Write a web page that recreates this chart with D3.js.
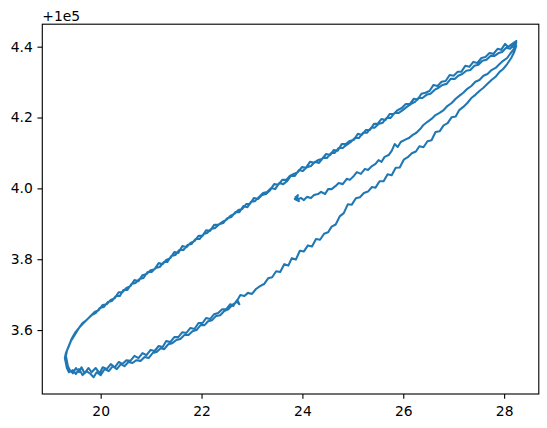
<!DOCTYPE html>
<html>
<head>
<meta charset="utf-8">
<script src="https://cdn.jsdelivr.net/npm/d3@7"></script>
<style>
  html, body { margin: 0; padding: 0; background: #ffffff; }
  svg { display: block; }
  text { font-family: "DejaVu Sans", sans-serif; }
</style>
</head>
<body>
<svg id="chart" width="547" height="428"></svg>
<script>
// ---- data (y values are shown relative to the +1e5 offset) ----
const yOffset = 1e5;
const offsetLabel = "+1e5";

const xValues = [
  // middle branch (start) -> upper-right tip
  23.87,23.93,23.85,23.91,23.89,23.97,24.03,24.09,24.17,24.23,
  24.31,24.37,24.45,24.51,24.58,24.66,24.72,24.80,24.88,24.94,
  25.02,25.08,25.16,25.24,25.30,25.38,25.45,25.51,25.57,25.63,
  25.71,25.77,25.83,25.89,25.95,26.03,26.11,26.19,26.26,26.34,
  26.40,26.48,26.56,26.64,26.72,26.80,26.88,26.96,27.04,27.11,
  27.19,27.27,27.35,27.43,27.51,27.59,27.67,27.75,27.83,27.91,
  27.98,28.06,28.12,28.18,28.22,28.20,28.24,28.18,28.24,
  // upper branch, pass 1
  28.16,28.08,28.02,27.94,27.87,27.79,27.71,27.63,27.55,27.47,
  27.39,27.31,27.23,27.15,27.08,27.00,26.92,26.84,26.76,26.68,
  26.60,26.52,26.44,26.36,26.28,26.21,26.13,26.05,25.97,25.89,
  25.81,25.73,25.65,25.57,25.49,25.42,25.34,25.26,25.18,25.10,
  25.02,24.94,24.86,24.78,24.70,24.62,24.55,24.47,24.39,24.31,
  24.23,24.15,24.07,23.99,23.91,23.83,23.75,23.68,23.60,23.52,
  23.44,23.36,23.28,23.20,23.12,23.04,22.96,22.89,22.81,22.73,
  22.65,22.57,22.49,22.41,22.33,22.25,22.17,22.09,22.02,21.94,
  21.86,21.78,21.70,21.62,21.54,21.46,21.38,21.30,21.23,21.15,
  21.07,20.99,20.91,20.83,20.75,20.67,20.59,20.51,20.43,20.36,
  20.28,20.20,20.12,20.04,19.96,19.88,19.80,19.72,19.64,19.57,
  19.49,19.43,19.39,19.35,19.31,19.29,19.31,19.33,
  // lower branch, pass 1
  19.37,19.45,19.51,19.57,19.64,19.72,19.80,19.86,19.92,20.00,
  20.08,20.16,20.24,20.32,20.40,20.47,20.55,20.63,20.71,20.79,
  20.87,20.95,21.03,21.11,21.19,21.26,21.34,21.42,21.50,21.58,
  21.66,21.74,21.82,21.90,21.98,22.06,22.13,22.21,22.29,22.37,
  22.45,22.53,22.61,22.69,22.77,22.85,22.92,23.00,23.08,23.16,
  23.24,23.32,23.40,23.48,23.56,23.64,23.72,23.79,23.87,23.95,
  24.03,24.11,24.19,24.27,24.35,24.43,24.51,24.58,24.66,24.74,
  24.82,24.90,24.98,25.06,25.14,25.22,25.30,25.38,25.45,25.53,
  25.61,25.69,25.77,25.85,25.93,26.01,26.09,26.17,26.25,26.32,
  26.40,26.48,26.56,26.64,26.72,26.80,26.88,26.96,27.04,27.11,
  27.19,27.27,27.35,27.43,27.51,27.59,27.67,27.75,27.83,27.91,
  27.98,28.06,28.14,28.20,28.24,28.20,28.24,
  // upper branch, pass 2
  28.18,28.12,28.04,27.96,27.89,27.81,27.73,27.65,27.57,27.49,
  27.41,27.33,27.25,27.17,27.09,27.02,26.94,26.86,26.78,26.70,
  26.62,26.54,26.46,26.38,26.30,26.23,26.15,26.07,25.99,25.91,
  25.83,25.75,25.67,25.59,25.51,25.43,25.36,25.28,25.20,25.12,
  25.04,24.96,24.88,24.80,24.72,24.64,24.57,24.49,24.41,24.33,
  24.25,24.17,24.09,24.01,23.93,23.85,23.77,23.70,23.62,23.54,
  23.46,23.38,23.30,23.22,23.14,23.06,22.98,22.91,22.83,22.75,
  22.67,22.59,22.51,22.43,22.35,22.27,22.19,22.11,22.04,21.96,
  21.88,21.80,21.72,21.64,21.56,21.48,21.40,21.32,21.25,21.17,
  21.09,21.01,20.93,20.85,20.77,20.69,20.61,20.53,20.45,20.38,
  20.30,20.22,20.14,20.06,19.98,19.90,19.82,19.74,19.66,19.58,
  19.53,19.47,19.41,19.37,19.33,19.31,19.33,19.35,19.39,
  // lower branch, pass 2 (end)
  19.45,19.51,19.57,19.62,19.68,19.76,19.82,19.90,19.98,20.04,
  20.12,20.20,20.28,20.36,20.43,20.51,20.59,20.67,20.75,20.83,
  20.91,20.99,21.07,21.15,21.23,21.30,21.38,21.46,21.54,21.62,
  21.70,21.78,21.86,21.94,22.02,22.09,22.17,22.25,22.33,22.41,
  22.49,22.57,22.63,22.69,22.75,22.71
];

const yValues = [
  // middle branch (start) -> upper-right tip
  3.976,3.964,3.970,3.981,3.967,3.973,3.967,3.976,3.973,3.981,
  3.984,3.990,3.984,3.998,3.998,4.007,4.015,4.012,4.027,4.024,
  4.035,4.046,4.041,4.055,4.052,4.063,4.069,4.080,4.075,4.089,
  4.094,4.106,4.125,4.117,4.131,4.137,4.142,4.151,4.157,4.168,
  4.179,4.188,4.196,4.207,4.213,4.221,4.233,4.241,4.253,4.261,
  4.270,4.281,4.289,4.301,4.306,4.318,4.323,4.334,4.340,4.351,
  4.360,4.368,4.380,4.391,4.402,4.388,4.411,4.399,4.416,
  // upper branch, pass 1
  4.408,4.399,4.408,4.391,4.394,4.380,4.382,4.371,4.368,4.354,
  4.357,4.343,4.346,4.329,4.329,4.318,4.320,4.303,4.301,4.289,
  4.292,4.275,4.270,4.267,4.250,4.253,4.238,4.238,4.227,4.221,
  4.210,4.210,4.193,4.196,4.182,4.182,4.165,4.165,4.151,4.154,
  4.137,4.134,4.125,4.125,4.106,4.108,4.094,4.097,4.083,4.080,
  4.072,4.075,4.058,4.060,4.046,4.041,4.035,4.024,4.024,4.010,
  4.012,3.995,3.984,3.981,3.970,3.973,3.956,3.956,3.942,3.939,
  3.928,3.922,3.911,3.905,3.897,3.897,3.880,3.882,3.866,3.866,
  3.851,3.846,3.834,3.837,3.818,3.820,3.803,3.798,3.786,3.789,
  3.772,3.769,3.758,3.755,3.738,3.741,3.724,3.719,3.707,3.707,
  3.690,3.685,3.673,3.671,3.656,3.651,3.640,3.628,3.620,3.606,
  3.592,3.577,3.563,3.549,3.535,3.521,3.507,3.493,
  // lower branch, pass 1
  3.481,3.487,3.476,3.490,3.473,3.484,3.476,3.467,3.481,3.473,
  3.490,3.484,3.498,3.490,3.504,3.498,3.510,3.507,3.515,3.513,
  3.524,3.521,3.535,3.538,3.549,3.546,3.560,3.563,3.572,3.575,
  3.586,3.586,3.597,3.600,3.614,3.614,3.625,3.628,3.640,3.642,
  3.654,3.659,3.671,3.679,3.699,3.696,3.705,3.702,3.716,3.724,
  3.730,3.746,3.749,3.766,3.764,3.786,3.782,3.803,3.799,3.824,
  3.822,3.839,3.836,3.857,3.855,3.872,3.876,3.892,3.898,3.921,
  3.930,3.955,3.954,3.972,3.975,3.987,3.991,4.004,4.002,4.020,
  4.020,4.040,4.037,4.058,4.059,4.081,4.088,4.099,4.104,4.119,
  4.116,4.133,4.136,4.159,4.161,4.178,4.184,4.201,4.203,4.221,
  4.230,4.241,4.255,4.264,4.275,4.284,4.295,4.306,4.315,4.329,
  4.337,4.351,4.368,4.385,4.402,4.394,4.414,
  // upper branch, pass 2
  4.405,4.394,4.397,4.385,4.382,4.374,4.374,4.363,4.360,4.349,
  4.346,4.334,4.332,4.323,4.318,4.309,4.309,4.295,4.292,4.284,
  4.278,4.267,4.264,4.255,4.255,4.244,4.238,4.230,4.221,4.213,
  4.213,4.199,4.199,4.185,4.182,4.171,4.171,4.157,4.157,4.142,
  4.142,4.131,4.123,4.114,4.114,4.100,4.100,4.086,4.086,4.072,
  4.075,4.063,4.060,4.049,4.052,4.035,4.035,4.021,4.012,4.015,
  3.998,4.001,3.990,3.987,3.976,3.964,3.962,3.947,3.950,3.933,
  3.933,3.919,3.916,3.902,3.899,3.888,3.885,3.874,3.871,3.857,
  3.857,3.843,3.840,3.826,3.826,3.812,3.809,3.792,3.792,3.778,
  3.775,3.764,3.764,3.747,3.744,3.733,3.730,3.713,3.713,3.696,
  3.696,3.682,3.679,3.665,3.662,3.648,3.642,3.631,3.620,3.608,
  3.597,3.583,3.569,3.555,3.541,3.527,3.513,3.498,3.487,
  // lower branch, pass 2 (end)
  3.478,3.493,3.481,3.495,3.478,3.493,3.481,3.493,3.478,3.495,
  3.490,3.504,3.495,3.510,3.504,3.515,3.513,3.527,3.521,3.535,
  3.529,3.544,3.541,3.555,3.552,3.569,3.566,3.580,3.580,3.594,
  3.592,3.606,3.603,3.620,3.620,3.634,3.631,3.645,3.648,3.659,
  3.659,3.673,3.668,3.682,3.673,3.685
];

const xTicks = [20, 22, 24, 26, 28];
const xTickLabels = ["20", "22", "24", "26", "28"];
const yTicks = [3.6, 3.8, 4.0, 4.2, 4.4];
const yTickLabels = ["3.6", "3.8", "4.0", "4.2", "4.4"];

// ---- layout ----
const W = 547, H = 428;
const plot = { left: 42.3, top: 24.2, right: 538.8, bottom: 394 };
const fontSize = 13.89;
const tickLen = 4.86;

const points = xValues.map((x, i) => ({ x: x, y: yOffset + yValues[i] }));

const xe = d3.extent(points, d => d.x);
const ye = d3.extent(points, d => d.y);
const xp = (xe[1] - xe[0]) * 0.05, yp = (ye[1] - ye[0]) * 0.05;

const x = d3.scaleLinear().domain([xe[0] - xp, xe[1] + xp]).range([plot.left, plot.right]);
const y = d3.scaleLinear().domain([ye[0] - yp, ye[1] + yp]).range([plot.bottom, plot.top]);

const svg = d3.select("#chart");
svg.append("rect").attr("width", W).attr("height", H).attr("fill", "#ffffff");

// data line
const line = d3.line().x(d => x(d.x)).y(d => y(d.y));
svg.append("path")
  .datum(points)
  .attr("d", line)
  .attr("fill", "none")
  .attr("stroke", "#1f77b4")
  .attr("stroke-width", 2.08)
  .attr("stroke-linejoin", "round")
  .attr("stroke-linecap", "square");

// axes
const xAxis = d3.axisBottom(x)
  .tickValues(xTicks)
  .tickFormat((d, i) => xTickLabels[i])
  .tickSize(tickLen).tickSizeOuter(0).tickPadding(7.2);
const yAxis = d3.axisLeft(y)
  .tickValues(yTicks.map(t => yOffset + t))
  .tickFormat((d, i) => yTickLabels[i])
  .tickSize(tickLen).tickSizeOuter(0).tickPadding(4.6);

const gx = svg.append("g").attr("transform", `translate(0,${plot.bottom})`).call(xAxis);
const gy = svg.append("g").attr("transform", `translate(${plot.left},0)`).call(yAxis);
[gx, gy].forEach(g => {
  g.select(".domain").remove();
  g.selectAll(".tick line").attr("stroke", "#000").attr("stroke-width", 1.11);
  g.selectAll(".tick text")
    .attr("fill", "#000")
    .style("font-family", "'DejaVu Sans', sans-serif")
    .style("font-size", fontSize + "px");
});

// spines
svg.append("rect")
  .attr("x", plot.left).attr("y", plot.top)
  .attr("width", plot.right - plot.left).attr("height", plot.bottom - plot.top)
  .attr("fill", "none").attr("stroke", "#000").attr("stroke-width", 1.11);

// offset text
svg.append("text")
  .attr("x", plot.left).attr("y", 20.8)
  .attr("fill", "#000")
  .style("font-family", "'DejaVu Sans', sans-serif")
  .style("font-size", fontSize + "px")
  .text(offsetLabel);
</script>
</body>
</html>
